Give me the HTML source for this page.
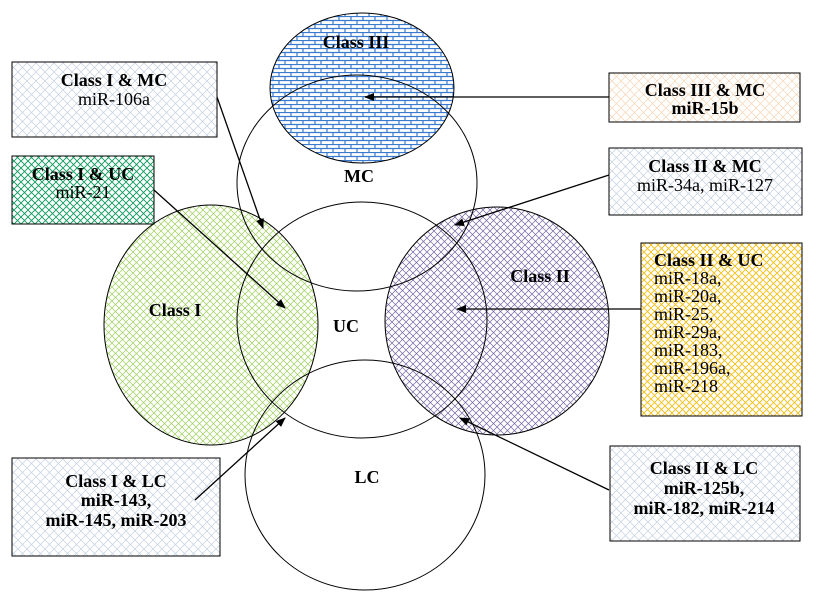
<!DOCTYPE html>
<html><head><style>body{margin:0;background:#fff}svg{display:block}text{font-family:"Liberation Serif",serif;font-size:18px}</style></head><body>
<svg width="815" height="592" xmlns="http://www.w3.org/2000/svg">
<defs>
<pattern id="brick" width="12" height="8" patternUnits="userSpaceOnUse"><rect width="12" height="8" fill="#fff"/><path d="M0 0.5H12M0 4.5H12M3 0V4M9 4V8" stroke="#3a7ad0" stroke-width="1.2"/></pattern>
<pattern id="green" width="7" height="7" patternUnits="userSpaceOnUse"><rect width="7" height="7" fill="#fff"/><path d="M0 7L7 0M0 0L7 7" stroke="#9ccf5a" stroke-width="0.7"/></pattern>
<pattern id="purple" width="7" height="7" patternUnits="userSpaceOnUse"><rect width="7" height="7" fill="#fff"/><path d="M0 7L7 0M0 0L7 7" stroke="#7565a3" stroke-width="0.7"/></pattern>
<pattern id="gray" width="9" height="9" patternUnits="userSpaceOnUse"><rect width="9" height="9" fill="#fff"/><path d="M0 9L9 0M0 0L9 9" stroke="#c4cfe0" stroke-width="0.7"/></pattern>
<pattern id="teal" width="7" height="7" patternUnits="userSpaceOnUse"><rect width="7" height="7" fill="#fff"/><path d="M0 7L7 0M0 0L7 7" stroke="#0a9a5a" stroke-width="0.9"/></pattern>
<pattern id="orange" width="9" height="9" patternUnits="userSpaceOnUse"><rect width="9" height="9" fill="#fff"/><path d="M0 9L9 0M0 0L9 9" stroke="#f8d4b4" stroke-width="0.7"/></pattern>
<pattern id="yellow" width="7" height="7" patternUnits="userSpaceOnUse"><rect width="7" height="7" fill="#fff"/><path d="M0 7L7 0M0 0L7 7" stroke="#f5be10" stroke-width="0.9"/></pattern>
<marker id="ah" markerWidth="10" markerHeight="8" refX="9" refY="4" orient="auto" markerUnits="userSpaceOnUse"><path d="M0 0L10 4L0 8Z" fill="#000"/></marker>
</defs>
<g stroke="#000" stroke-width="1">
<ellipse cx="211" cy="325" rx="107" ry="120" fill="url(#green)"/>
<ellipse cx="497" cy="321" rx="112" ry="114" fill="url(#purple)"/>
<ellipse cx="362" cy="88" rx="92" ry="75" fill="url(#brick)"/>
<g fill="none">
<ellipse cx="357" cy="183" rx="120" ry="108"/>
<ellipse cx="362" cy="320" rx="125" ry="118"/>
<ellipse cx="365" cy="475" rx="120" ry="115"/>
</g>
<rect x="12" y="62" width="205" height="75" fill="url(#gray)"/>
<rect x="12" y="156" width="142" height="68" fill="url(#teal)"/>
<rect x="609" y="73" width="191" height="49" fill="url(#orange)"/>
<rect x="609" y="148" width="193" height="67" fill="url(#gray)"/>
<rect x="641" y="243" width="161" height="173" fill="url(#yellow)"/>
<rect x="12" y="458" width="208" height="98" fill="url(#gray)"/>
<rect x="610" y="446" width="190" height="95" fill="url(#gray)"/>
<g stroke-width="1.3" marker-end="url(#ah)">
<line x1="609" y1="97" x2="365" y2="97"/>
<line x1="217" y1="97" x2="263" y2="228"/>
<line x1="154" y1="190" x2="285" y2="308"/>
<line x1="609" y1="175" x2="455" y2="225"/>
<line x1="641" y1="309" x2="457" y2="309"/>
<line x1="195" y1="500" x2="285" y2="418"/>
<line x1="609" y1="490" x2="460" y2="418"/>
</g>
</g>
<g font-weight="bold" text-anchor="middle">
<text x="356" y="48">Class III</text>
<text x="359" y="182">MC</text>
<text x="175" y="316">Class I</text>
<text x="540" y="282">Class II</text>
<text x="346" y="332">UC</text>
<text x="367" y="483">LC</text>
<text x="114" y="86">Class I &amp; MC</text>
<text x="83" y="180">Class I &amp; UC</text>
<text x="705" y="96">Class III &amp; MC</text>
<text x="705" y="114">miR-15b</text>
<text x="705" y="172">Class II &amp; MC</text>
<text x="116" y="487">Class I &amp; LC</text>
<text x="116" y="506">miR-143,</text>
<text x="116" y="526">miR-145, miR-203</text>
<text x="704" y="474">Class II &amp; LC</text>
<text x="704" y="494">miR-125b,</text>
<text x="704" y="514">miR-182, miR-214</text>
</g>
<g text-anchor="middle">
<text x="114" y="105">miR-106a</text>
<text x="83" y="198">miR-21</text>
<text x="705" y="191">miR-34a, miR-127</text>
</g>
<text x="654" y="266" font-weight="bold">Class II &amp; UC</text>
<text x="654" y="284">miR-18a,</text>
<text x="654" y="302">miR-20a,</text>
<text x="654" y="320">miR-25,</text>
<text x="654" y="338">miR-29a,</text>
<text x="654" y="356">miR-183,</text>
<text x="654" y="374">miR-196a,</text>
<text x="654" y="392">miR-218</text>
</svg>
</body></html>
